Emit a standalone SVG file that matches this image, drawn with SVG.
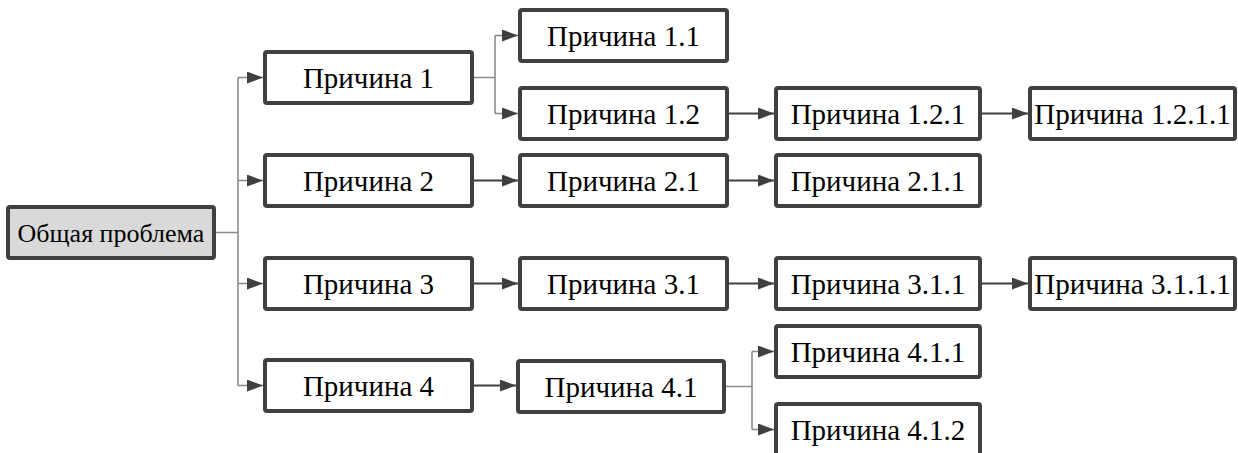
<svg xmlns="http://www.w3.org/2000/svg" width="1238" height="453" viewBox="0 0 1238 453">
<defs>
<marker id="ah" markerWidth="16" markerHeight="12" refX="16" refY="6" orient="auto" markerUnits="userSpaceOnUse">
<path d="M0,0 L16,6 L0,12 z" fill="#404040"/>
</marker>
<style>
.box{fill:#fff;stroke:#404040;stroke-width:4}
.root{fill:#d9d9d9;stroke:#404040;stroke-width:4}
text{font-family:'Liberation Serif','DejaVu Serif',serif;font-size:29px;fill:#000;text-anchor:middle}
.tr{font-size:26px}
.br{fill:none;stroke:#8c8c8c;stroke-width:1.6}
.ar{fill:none;stroke:#404040;stroke-width:2;marker-end:url(#ah)}
.bra{fill:none;stroke:#8c8c8c;stroke-width:1.6;marker-end:url(#ah)}
</style>
</defs>
<rect width="1238" height="453" fill="#fff"/>
<g id="connectors">
<path class="br" d="M214,232.5 H238 M238,77.5 V385.5"/>
<path class="bra" d="M238,77.5 H263"/>
<path class="bra" d="M238,180.5 H263"/>
<path class="bra" d="M238,283.5 H263"/>
<path class="bra" d="M238,385.5 H263"/>
<path class="br" d="M472,77.5 H495 M495,35.5 V113.5"/>
<path class="bra" d="M495,35.5 H518"/>
<path class="bra" d="M495,113.5 H518"/>
<path class="ar" d="M727,113.5 H774"/>
<path class="ar" d="M980,113.5 H1028"/>
<path class="ar" d="M472,180.5 H518"/>
<path class="ar" d="M727,180.5 H774"/>
<path class="ar" d="M472,283.5 H518"/>
<path class="ar" d="M727,283.5 H774"/>
<path class="ar" d="M980,283.5 H1028"/>
<path class="ar" d="M472,385.5 H516"/>
<path class="br" d="M724,386.5 H752 M752,351.5 V429.5"/>
<path class="bra" d="M752,351.5 H774"/>
<path class="bra" d="M752,429.5 H774"/>
</g>
<g id="n0"><rect class="root" x="8" y="207" width="206" height="51" rx="2"/><text class="tr" x="111" y="241.5">Общая проблема</text></g>
<g id="n1"><rect class="box" x="265" y="52" width="207" height="51" rx="2"/><text x="368.5" y="87.5">Причина 1</text></g>
<g id="n2"><rect class="box" x="265" y="155" width="207" height="51" rx="2"/><text x="368.5" y="190.5">Причина 2</text></g>
<g id="n3"><rect class="box" x="265" y="258" width="207" height="51" rx="2"/><text x="368.5" y="293.5">Причина 3</text></g>
<g id="n4"><rect class="box" x="265" y="360" width="207" height="51" rx="2"/><text x="368.5" y="395.5">Причина 4</text></g>
<g id="n11"><rect class="box" x="520" y="10" width="207" height="51" rx="2"/><text x="623.5" y="45.5">Причина 1.1</text></g>
<g id="n12"><rect class="box" x="520" y="88" width="207" height="51" rx="2"/><text x="623.5" y="123.5">Причина 1.2</text></g>
<g id="n21"><rect class="box" x="520" y="155" width="207" height="51" rx="2"/><text x="623.5" y="190.5">Причина 2.1</text></g>
<g id="n31"><rect class="box" x="520" y="258" width="207" height="51" rx="2"/><text x="623.5" y="293.5">Причина 3.1</text></g>
<g id="n41"><rect class="box" x="518" y="361" width="206" height="51" rx="2"/><text x="621" y="396.5">Причина 4.1</text></g>
<g id="n121"><rect class="box" x="776" y="88" width="204" height="51" rx="2"/><text x="878" y="123.5">Причина 1.2.1</text></g>
<g id="n211"><rect class="box" x="776" y="155" width="204" height="51" rx="2"/><text x="878" y="190.5">Причина 2.1.1</text></g>
<g id="n311"><rect class="box" x="776" y="258" width="204" height="51" rx="2"/><text x="878" y="293.5">Причина 3.1.1</text></g>
<g id="n411"><rect class="box" x="776" y="326" width="204" height="51" rx="2"/><text x="878" y="361.5">Причина 4.1.1</text></g>
<g id="n412"><rect class="box" x="776" y="404" width="204" height="51" rx="2"/><text x="878" y="439.5">Причина 4.1.2</text></g>
<g id="n1211"><rect class="box" x="1030" y="88" width="205" height="51" rx="2"/><text x="1132.5" y="123.5">Причина 1.2.1.1</text></g>
<g id="n3111"><rect class="box" x="1030" y="258" width="205" height="51" rx="2"/><text x="1132.5" y="293.5">Причина 3.1.1.1</text></g>
</svg>
